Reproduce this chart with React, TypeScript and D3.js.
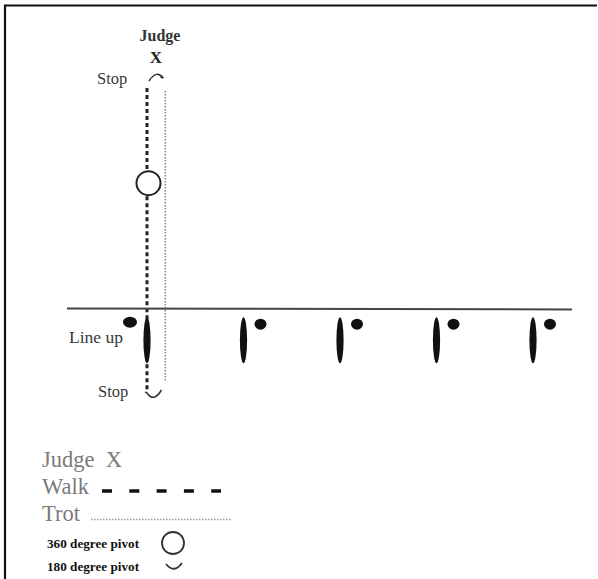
import { useEffect, useRef } from "react";
import * as d3 from "d3";

// horses standing in the line up, left to right
const horses = ["1", "2", "3", "4", "5"];
// which side of the horse the handler stands on (-1 left, 1 right)
const handlerSide = [-1, 1, 1, 1, 1];

// pattern along the arena (0 = judge end, 100 = final stop)
const walkRun = [0, 100];
const trotRun = [1, 97];
const pivotAt = 31.5;
const lineUpAt = 73;
const horseAt = 83.5;

// text labels
const topLabels = ["Judge", "X"];
const stopLabel = "Stop";
const lineUpLabel = "Line up";
const legendLabels = ["Judge  X", "Walk", "Trot"];
const pivotLabels = ["360 degree pivot", "180 degree pivot"];

export default function App() {
  const ref = useRef<SVGSVGElement>(null);

  useEffect(() => {
    const svg = d3.select(ref.current);
    svg.selectAll("*").remove();

    const w = 598;
    const h = 579;

    const x = d3.scaleLinear().domain([0, 4]).range([147, 533]);
    const y = d3.scaleLinear().domain([0, 100]).range([88, 390]);

    svg.append("rect").attr("width", w).attr("height", h).attr("fill", "#fff");

    // frame (only top and left edges show)
    svg.append("path")
      .attr("d", `M5,${h} L5,5.5 L597,5.5`)
      .attr("fill", "none")
      .attr("stroke", "#111")
      .attr("stroke-width", 2.2);

    const serif = "'Liberation Serif', 'DejaVu Serif', serif";

    // judge label
    svg.append("text").attr("x", 160).attr("y", 41)
      .attr("text-anchor", "middle")
      .attr("font-family", serif).attr("font-weight", "bold")
      .attr("font-size", 16).attr("fill", "#333")
      .text(topLabels[0]);
    svg.append("text").attr("x", 156).attr("y", 63)
      .attr("text-anchor", "middle")
      .attr("font-family", serif).attr("font-weight", "bold")
      .attr("font-size", 17).attr("fill", "#222")
      .text(topLabels[1]);

    // trot lane (thin dotted)
    const trotX = x(0.19);
    svg.append("line")
      .attr("x1", trotX).attr("x2", trotX)
      .attr("y1", y(trotRun[0])).attr("y2", y(trotRun[1]))
      .attr("stroke", "#888").attr("stroke-width", 1.6)
      .attr("stroke-dasharray", "1.5 1.5");

    // walk lane (heavy dashes), broken by the pivot circle
    const pivotR = 12;
    const walkSegs = [
      [y(walkRun[0]), y(pivotAt) - pivotR - 1],
      [y(pivotAt) + pivotR + 1, y(walkRun[1])],
    ];
    walkSegs.forEach(([a, b]) => {
      svg.append("line")
        .attr("x1", x(0)).attr("x2", x(0))
        .attr("y1", a).attr("y2", b)
        .attr("stroke", "#222").attr("stroke-width", 3)
        .attr("stroke-dasharray", "4 3");
    });

    // 360 pivot circle
    svg.append("circle")
      .attr("cx", x(0) + 1.5).attr("cy", y(pivotAt))
      .attr("r", pivotR)
      .attr("fill", "#fff").attr("stroke", "#222").attr("stroke-width", 2);

    // line up rail
    svg.append("line")
      .attr("x1", 67).attr("x2", 572)
      .attr("y1", y(lineUpAt)).attr("y2", y(lineUpAt) + 1)
      .attr("stroke", "#444").attr("stroke-width", 2);

    // top 180 arc (stop + turn)
    const topArcY = y(-3.6);
    svg.append("path")
      .attr("d", `M${x(0.02)},${topArcY + 4} Q${x(0.1)},${topArcY - 8} ${x(0.17)},${topArcY + 1} M${x(0.17)},${topArcY + 1} l-3,-1`)
      .attr("fill", "none").attr("stroke", "#333").attr("stroke-width", 1.5);

    // bottom 180 arc
    const botArcY = y(100) + 5;
    svg.append("path")
      .attr("d", `M${x(-0.02)},${botArcY - 3} l2,1 Q${x(0.07)},${botArcY + 8} ${x(0.15)},${botArcY - 5}`)
      .attr("fill", "none").attr("stroke", "#333").attr("stroke-width", 1.5);

    // labels
    svg.append("text").attr("x", 97).attr("y", 84)
      .attr("font-family", serif).attr("font-size", 16.5).attr("fill", "#3a3a3a")
      .text(stopLabel);
    svg.append("text").attr("x", 98).attr("y", 397)
      .attr("font-family", serif).attr("font-size", 16.5).attr("fill", "#3a3a3a")
      .text(stopLabel);
    svg.append("text").attr("x", 69).attr("y", 343)
      .attr("font-family", serif).attr("font-size", 17.5).attr("fill", "#3a3a3a")
      .text(lineUpLabel);

    // horses and handlers
    const hg = svg.append("g");
    hg.selectAll("ellipse.horse")
      .data(horses)
      .enter().append("ellipse")
      .attr("class", "horse")
      .attr("cx", (_d, i) => x(i))
      .attr("cy", y(horseAt))
      .attr("rx", 3.6)
      .attr("ry", 23)
      .attr("fill", "#111");
    hg.selectAll("ellipse.handler")
      .data(horses)
      .enter().append("ellipse")
      .attr("class", "handler")
      .attr("cx", (_d, i) => x(i) + handlerSide[i] * 17)
      .attr("cy", (_d, i) => (handlerSide[i] < 0 ? y(horseAt) - 18 : y(horseAt) - 16))
      .attr("rx", (_d, i) => (handlerSide[i] < 0 ? 7 : 6))
      .attr("ry", 5.5)
      .attr("fill", "#111");

    // legend
    const lg = svg.append("g");
    const legendY = [467, 494, 521];
    legendLabels.forEach((t, i) => {
      lg.append("text").attr("x", 42).attr("y", legendY[i])
        .attr("font-family", serif).attr("font-size", 22.5).attr("fill", "#7a7a7a")
        .attr("xml:space", "preserve")
        .style("white-space", "pre")
        .text(t);
    });
    lg.append("line")
      .attr("x1", 102).attr("x2", 221)
      .attr("y1", 491).attr("y2", 491)
      .attr("stroke", "#111").attr("stroke-width", 3.5)
      .attr("stroke-dasharray", "10 17.3");
    lg.append("line")
      .attr("x1", 91).attr("x2", 232)
      .attr("y1", 519.5).attr("y2", 519.5)
      .attr("stroke", "#999").attr("stroke-width", 1.4)
      .attr("stroke-dasharray", "1.5 1.5");

    const pivotY = [548, 571];
    pivotLabels.forEach((t, i) => {
      lg.append("text").attr("x", 47).attr("y", pivotY[i])
        .attr("font-family", serif).attr("font-weight", "bold")
        .attr("font-size", 13.2).attr("fill", "#111")
        .text(t);
    });
    lg.append("circle")
      .attr("cx", 173).attr("cy", 543).attr("r", 11)
      .attr("fill", "none").attr("stroke", "#333").attr("stroke-width", 1.8);
    lg.append("path")
      .attr("d", "M166,564 Q174,574 182,563")
      .attr("fill", "none").attr("stroke", "#333").attr("stroke-width", 1.8);
  }, []);

  return (
    <svg
      ref={ref}
      width={598}
      height={579}
      style={{ position: "absolute", left: 0, top: 0 }}
    ></svg>
  );
}
